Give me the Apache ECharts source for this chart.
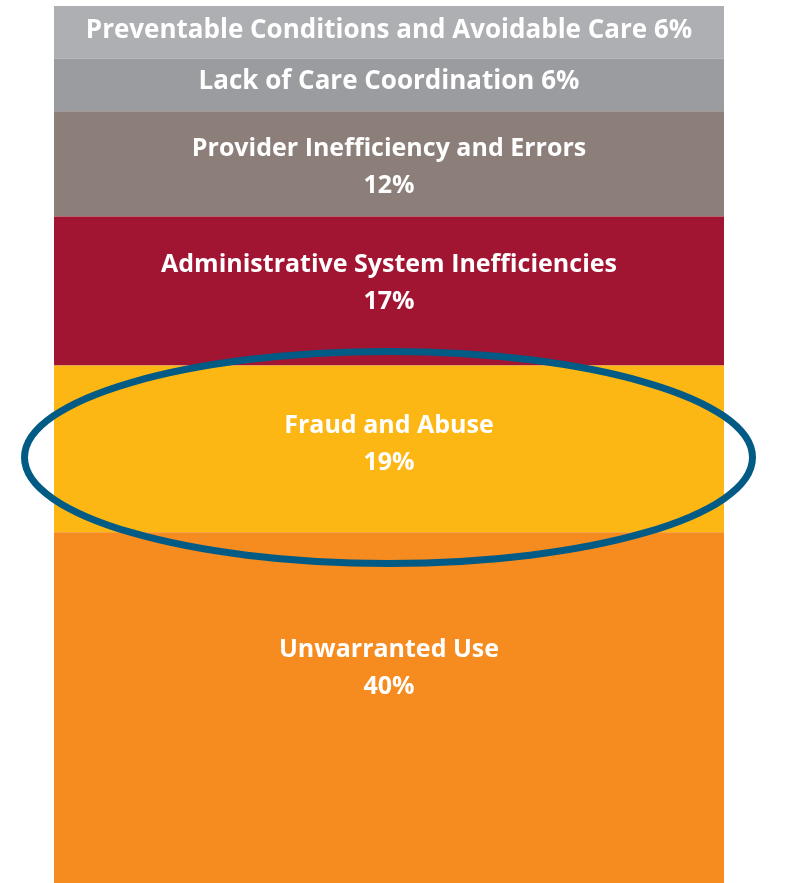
<!DOCTYPE html>
<html>
<head>
<meta charset="utf-8">
<script src="https://cdn.jsdelivr.net/npm/echarts@6/dist/echarts.min.js"></script>
<style>html,body{margin:0;padding:0;background:#fff;}#c{width:805px;height:883px;}</style>
</head>
<body>
<div id="c"></div>
<script>
// Data
const categories = ['Preventable Conditions and Avoidable Care', 'Lack of Care Coordination', 'Provider Inefficiency and Errors', 'Administrative System Inefficiencies', 'Fraud and Abuse', 'Unwarranted Use'];
const values = [6, 6, 12, 17, 19, 40];
const labelTexts = [
  'Preventable Conditions and Avoidable Care 6%',
  'Lack of Care Coordination 6%',
  'Provider Inefficiency and Errors\n12%',
  'Administrative System Inefficiencies\n17%',
  'Fraud and Abuse\n19%',
  'Unwarranted Use\n40%'
];
const colors = ['#AEAFB3', '#9B9C9F', '#8C7F7A', '#A11432', '#FCB715', '#F68B1F'];
const labelOffsets = [[0, -2], [0, -3], [0, 4], [0, -8], [0, -5], [0, -39]];
const labelSizes = [26, 26, 25, 25, 25, 25];

const chart = echarts.init(document.getElementById('c'));
const series = categories.map((name, i) => ({
  name: name,
  type: 'bar',
  stack: 'total',
  barWidth: '100%',
  data: [values[i]],
  itemStyle: { color: colors[i] },
  label: {
    show: true,
    position: 'inside',
    offset: labelOffsets[i],
    formatter: labelTexts[i],
    color: '#fff',
    fontFamily: 'Open Sans',
    fontWeight: 'bold',
    fontSize: labelSizes[i],
    lineHeight: 37,
    align: 'center'
  },
  silent: true,
  animation: false
}));

chart.setOption({
  animation: false,
  grid: { left: 54, right: 81, top: 6, bottom: 0 },
  xAxis: { type: 'category', data: [''], show: false },
  yAxis: { type: 'value', min: 0, max: 100, inverse: true, show: false },
  series: series,
  graphic: [{
    type: 'ellipse',
    shape: { cx: 388.5, cy: 457.5, rx: 364, ry: 106 },
    style: { fill: 'none', stroke: '#015B84', lineWidth: 7 },
    z: 100
  }]
});
</script>
</body>
</html>
